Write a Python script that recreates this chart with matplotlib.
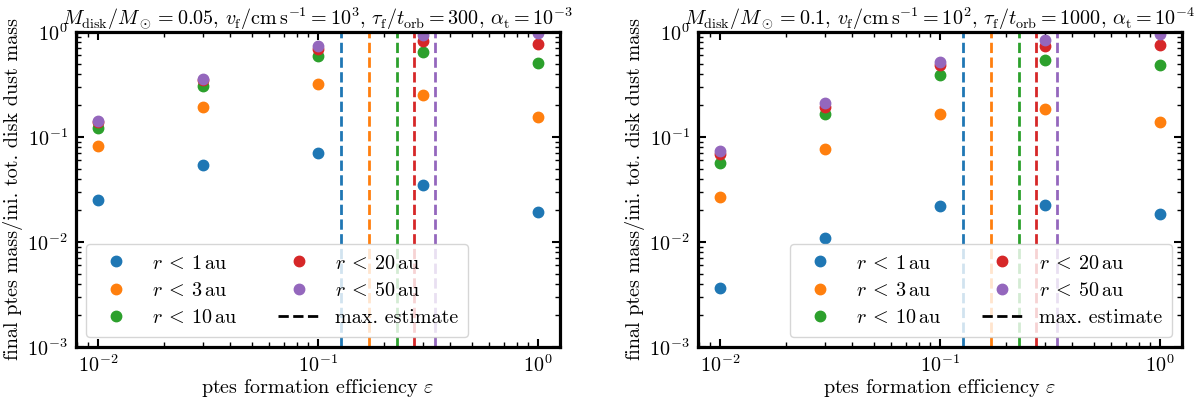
import matplotlib
matplotlib.use("Agg")
import matplotlib.pyplot as plt

plt.rcParams['font.family'] = 'serif'
plt.rcParams['font.serif'] = ['cmr10']
plt.rcParams['mathtext.fontset'] = 'cm'
plt.rcParams['axes.formatter.use_mathtext'] = True
plt.rcParams['axes.unicode_minus'] = False
plt.rcParams['font.size'] = 14.5

eps = [0.01, 0.03, 0.1, 0.3, 1.0]
radii = [1, 3, 10, 20, 50]
colors = ['tab:blue', 'tab:orange', 'tab:green', 'tab:red', 'tab:purple']
max_estimate = [0.127, 0.170, 0.229, 0.272, 0.342]

# left panel: Mdisk=0.05, vf=1e3, tau=300, alpha=1e-3
left_vals = {
    1: [0.025, 0.0543, 0.0703, 0.0352, 0.0193],
    3: [0.0814, 0.194, 0.32, 0.249, 0.155],
    10: [0.123, 0.306, 0.593, 0.638, 0.512],
    20: [0.138, 0.35, 0.69, 0.826, 0.767],
    50: [0.142, 0.36, 0.74, 0.94, 0.98],
}
# right panel: Mdisk=0.1, vf=1e2, tau=1000, alpha=1e-4
right_vals = {
    1: [0.00368, 0.0108, 0.0219, 0.0225, 0.0183],
    3: [0.0266, 0.0773, 0.164, 0.185, 0.139],
    10: [0.0567, 0.165, 0.39, 0.543, 0.486],
    20: [0.0684, 0.194, 0.483, 0.73, 0.756],
    50: [0.073, 0.212, 0.52, 0.83, 0.957],
}

titles = [r'$M_\mathrm{disk}/M_\odot = 0.05$, $v_\mathrm{f}/\mathrm{cm\,s^{-1}} = 10^3$, '
          r'$\tau_\mathrm{f}/t_\mathrm{orb} = 300$, $\alpha_\mathrm{t} = 10^{-3}$',
          r'$M_\mathrm{disk}/M_\odot = 0.1$, $v_\mathrm{f}/\mathrm{cm\,s^{-1}} = 10^2$, '
          r'$\tau_\mathrm{f}/t_\mathrm{orb} = 1000$, $\alpha_\mathrm{t} = 10^{-4}$']

fig = plt.figure(figsize=(12, 4.01), dpi=100)
ax1 = fig.add_axes([0.0633, 0.1347, 0.4033, 0.7855])
ax2 = fig.add_axes([0.5817, 0.1347, 0.4033, 0.7855])

for ax, vals, title, loc in zip([ax1, ax2], [left_vals, right_vals], titles,
                                ['lower left', 'lower right']):
    for r, c in zip(radii, colors):
        ax.plot(eps, vals[r], 'o', color=c, ms=7.5,
                label=r'$r\:<\:%d\,\mathrm{au}$' % r)
    for m, c in zip(max_estimate, colors):
        ax.axvline(m, color=c, ls='--', lw=2)
    ax.plot([], [], 'k--', lw=2, label='max. estimate')
    ax.set_xscale('log')
    ax.set_yscale('log')
    ax.set_ylim(1e-3, 1)
    ax.set_xlabel(r'ptes formation efficiency $\varepsilon$', labelpad=1)
    ax.set_ylabel('final ptes mass/ini. tot. disk dust mass', labelpad=3)
    ax.set_title(title, fontsize=14.5, pad=4)
    ax.tick_params(which='both', direction='in', top=True, right=True)
    ax.tick_params(which='major', length=6, width=1.5, pad=6)
    ax.tick_params(axis='x', which='major', pad=5)
    ax.tick_params(which='minor', length=3.5, width=1)
    for s in ax.spines.values():
        s.set_linewidth(2.3)
    ax.legend(loc=loc, ncol=2, fontsize=14.5, handlelength=2.0, handletextpad=0.8,
              columnspacing=2.0, borderpad=0.5, labelspacing=0.45)

fig.savefig('out.png', dpi=100)
